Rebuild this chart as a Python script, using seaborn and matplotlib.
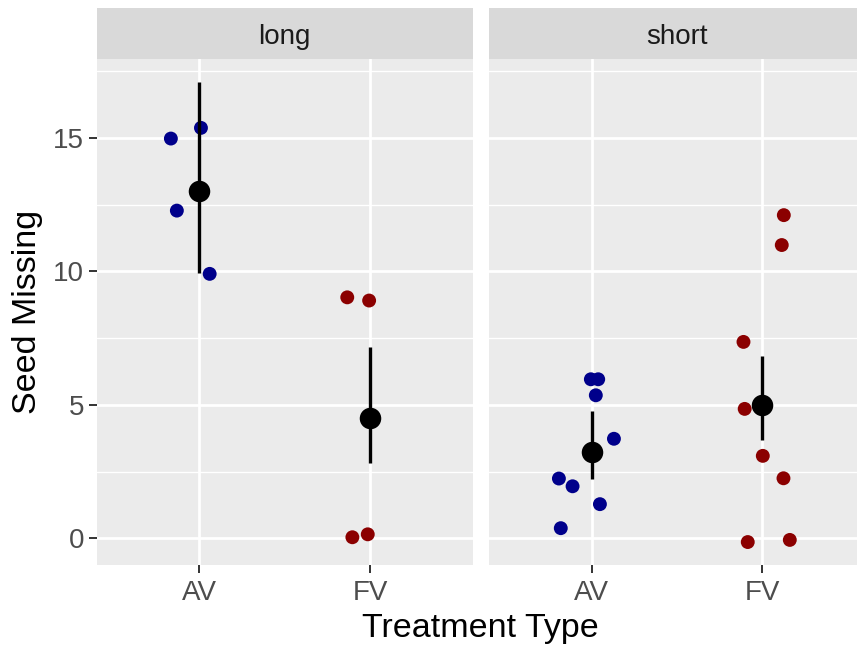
import numpy as np
import pandas as pd
import matplotlib
matplotlib.use("Agg")
import matplotlib.pyplot as plt
import seaborn as sns
from matplotlib.patches import Rectangle
from matplotlib.ticker import MultipleLocator

# ---------------- data ----------------
panels = ["long", "short"]
treatments = ["AV", "FV"]

# observed points (as plotted, incl. jitter)
long_av_y = [14.98, 15.38, 12.28, 9.91]
long_av_jit = [-0.166, 0.010, -0.131, 0.061]
long_fv_y = [9.03, 8.91, 0.04, 0.15]
long_fv_jit = [-0.134, -0.006, -0.104, -0.014]
short_av_y = [5.96, 5.96, 5.36, 3.73, 2.24, 1.95, 1.28, 0.38]
short_av_jit = [-0.004, 0.039, 0.025, 0.131, -0.191, -0.111, 0.049, -0.180]
short_fv_y = [12.11, 10.99, 7.36, 4.85, 3.09, 2.25, -0.14, -0.06]
short_fv_jit = [0.125, 0.113, -0.111, -0.104, 0.002, 0.123, -0.086, 0.160]

# summaries (mean and interval)
summary_panel = ["long", "long", "short", "short"]
summary_treat = ["AV", "FV", "AV", "FV"]
summary_mean = [13.0, 4.5, 3.25, 5.0]
summary_lo = [9.94, 2.84, 2.23, 3.69]
summary_hi = [17.09, 7.16, 4.78, 6.84]

x_label = "Treatment Type"
y_label = "Seed Missing"

# ---------------- build tables ----------------
rows = []
for pan, tr, ys, js in [
    ("long", "AV", long_av_y, long_av_jit),
    ("long", "FV", long_fv_y, long_fv_jit),
    ("short", "AV", short_av_y, short_av_jit),
    ("short", "FV", short_fv_y, short_fv_jit),
]:
    for y, j in zip(ys, js):
        rows.append({"panel": pan, "treatment": tr, "value": y, "jitter": j})
df = pd.DataFrame(rows)
code = {t: i for i, t in enumerate(treatments)}
df["xpos"] = df["treatment"].map(code) + df["jitter"]

summ = pd.DataFrame({"panel": summary_panel, "treatment": summary_treat,
                     "mean": summary_mean, "lo": summary_lo, "hi": summary_hi})
summ["xpos"] = summ["treatment"].map(code)

# ---------------- style ----------------
sns.set_theme(style="darkgrid")
plt.rcParams["font.family"] = ["Liberation Sans", "DejaVu Sans"]

W, H = 857, 647
fig = plt.figure(figsize=(W / 100, H / 100), dpi=100)
fig.patch.set_facecolor("white")

panel_top, panel_bot = 59.3, 565.0
strip_h = 51.0
lefts = [96.7, 489.0]
pw = 376.0
ph = panel_bot - panel_top

palette = {"AV": "#00008B", "FV": "#8B0000"}

for i, pan in enumerate(panels):
    ax = fig.add_axes([lefts[i] / W, (H - panel_bot) / H, pw / W, ph / H])
    ax.set_facecolor("#EBEBEB")
    for s in ax.spines.values():
        s.set_visible(False)
    ax.set_xlim(-0.6, 1.6)
    ax.set_ylim(-1.0, 17.95)
    ax.yaxis.set_major_locator(MultipleLocator(5))
    ax.yaxis.set_minor_locator(MultipleLocator(2.5))
    ax.set_xticks(range(len(treatments)))
    ax.set_xticklabels(treatments)
    ax.grid(which="major", color="white", linewidth=2.0)
    ax.grid(which="minor", axis="y", color="white", linewidth=1.0)
    ax.grid(which="minor", axis="x", visible=False)
    ax.set_axisbelow(True)

    sub = df[df["panel"] == pan]
    sns.scatterplot(data=sub, x="xpos", y="value", hue="treatment",
                    palette=palette, s=100, linewidth=0, legend=False,
                    ax=ax, zorder=3)
    ss = summ[summ["panel"] == pan]
    ax.vlines(ss["xpos"], ss["lo"], ss["hi"], color="black", linewidth=2.4,
              zorder=4)
    sns.scatterplot(data=ss, x="xpos", y="mean", color="black", s=240,
                    linewidth=0, legend=False, ax=ax, zorder=5)

    ax.set_xlabel("")
    ax.set_ylabel("")
    ax.tick_params(axis="x", which="major", length=6, width=1.4,
                   color="#333333", labelsize=20, labelcolor="#4D4D4D",
                   pad=5, bottom=True)
    ax.tick_params(axis="x", which="minor", bottom=False)
    if i == 0:
        ax.tick_params(axis="y", which="major", length=6, width=1.4,
                       color="#333333", labelsize=20, labelcolor="#4D4D4D",
                       pad=3, left=True)
    else:
        ax.tick_params(axis="y", which="major", left=False, labelleft=False)
    ax.tick_params(axis="y", which="minor", left=False)

    # facet strip
    hfrac = strip_h / ph
    ax.add_patch(Rectangle((0, 1), 1, hfrac, transform=ax.transAxes,
                           facecolor="#D9D9D9", edgecolor="none",
                           clip_on=False, zorder=1))
    ax.text(0.5, 1 + (panel_top - 44.0) / ph, pan, transform=ax.transAxes,
            ha="center", va="baseline", fontsize=20, color="#1A1A1A",
            clip_on=False)

# axis titles
fig.text((lefts[0] + lefts[1] + pw) / 2 / W, (H - 637.5) / H, x_label,
         ha="center", va="baseline", fontsize=24.5, color="black")
fig.text(28 / W, (H - (panel_top + panel_bot) / 2) / H, y_label,
         ha="center", va="center", rotation=90, fontsize=24.5, color="black")

fig.savefig("out.png", dpi=100)
